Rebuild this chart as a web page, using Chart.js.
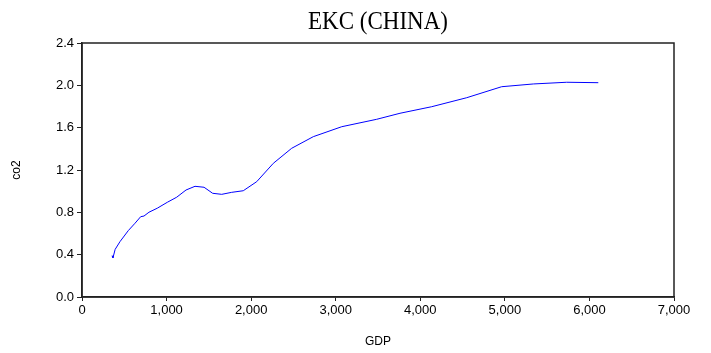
<!DOCTYPE html>
<html>
<head>
<meta charset="utf-8">
<script src="https://cdn.jsdelivr.net/npm/chart.js@4/dist/chart.umd.min.js"></script>
<style>
  html, body { margin: 0; padding: 0; background: #fff; }
  #wrap { position: relative; width: 711px; height: 353px; }
  #title { position: absolute; left: 0; top: 6px; width: 756px; text-align: center;
           font-family: "Liberation Serif", "Times New Roman", serif; font-size: 23px; line-height: 30px; color: #000;
           transform: scaleY(1.12); transform-origin: 50% 50%; }
  canvas { display: block; }
</style>
</head>
<body>
<div id="wrap">
  <canvas id="c" width="711" height="353"></canvas>
  <div id="title">EKC (CHINA)</div>
</div>
<script>
const chartTitle = "EKC (CHINA)";
const xAxisTitle = "GDP";
const yAxisTitle = "co2";
const gdp = [355, 366, 392, 449, 547, 627, 694, 733, 792, 890, 1009, 1120, 1230, 1336, 1443, 1545, 1652, 1770, 1907, 2066, 2262, 2479, 2735, 3071, 3484, 3760, 4135, 4549, 4962, 5337, 5731, 6105];
const co2 = [0.39, 0.37, 0.45, 0.523, 0.627, 0.697, 0.759, 0.765, 0.801, 0.839, 0.895, 0.943, 1.011, 1.046, 1.037, 0.98, 0.97, 0.989, 1.004, 1.09, 1.263, 1.405, 1.515, 1.609, 1.679, 1.736, 1.798, 1.883, 1.987, 2.013, 2.029, 2.025];
const xTicks = [0, 1000, 2000, 3000, 4000, 5000, 6000, 7000];
const yTicks = [0.0, 0.4, 0.8, 1.2, 1.6, 2.0, 2.4];

const points = gdp.map((g, i) => ({ x: g, y: co2[i] }));
const tickFont = { family: "'Liberation Sans', Arial, sans-serif", size: 13 };

const framePlugin = {
  id: 'frame',
  afterDraw(chart) {
    const a = chart.chartArea, ctx = chart.ctx;
    ctx.save();
    ctx.strokeStyle = '#222';
    ctx.lineWidth = 1.5;
    ctx.strokeRect(a.left, a.top, a.right - a.left, a.bottom - a.top);
    ctx.restore();
  }
};

new Chart(document.getElementById('c'), {
  type: 'scatter',
  data: {
    datasets: [{
      label: yAxisTitle,
      data: points,
      showLine: true,
      borderColor: '#0000ff',
      borderWidth: 1,
      pointRadius: 0,
      tension: 0,
      fill: false
    }]
  },
  options: {
    responsive: false,
    animation: false,
    layout: { padding: { top: 43, right: 37, left: 0, bottom: 0 } },
    plugins: { legend: { display: false }, tooltip: { enabled: false }, title: { display: false, text: chartTitle } },
    scales: {
      x: {
        type: 'linear', min: 0, max: 7000,
        afterBuildTicks: s => { s.ticks = xTicks.map(v => ({ value: v })); },
        ticks: { color: '#000', font: tickFont, padding: 2, maxRotation: 0, autoSkip: false,
                 callback: v => v.toLocaleString('en-US') },
        grid: { drawOnChartArea: false, drawTicks: true, tickLength: 4, color: '#222', lineWidth: 1 },
        border: { display: true, color: '#222', width: 1.5 },
        title: { display: true, text: xAxisTitle, color: '#000', font: { family: "'Liberation Sans', Arial, sans-serif", size: 12 }, padding: { top: 0, bottom: 4 } },
        afterFit: s => { s.height = 56; }
      },
      y: {
        type: 'linear', min: 0, max: 2.4,
        afterBuildTicks: s => { s.ticks = yTicks.map(v => ({ value: v })); },
        ticks: { color: '#000', font: tickFont, padding: 3, callback: v => Number(v).toFixed(1) },
        grid: { drawOnChartArea: false, drawTicks: true, tickLength: 5, color: '#222', lineWidth: 1 },
        border: { display: true, color: '#222', width: 1.5 },
        title: { display: true, text: yAxisTitle, color: '#000', font: { family: "'Liberation Sans', Arial, sans-serif", size: 12 }, padding: { top: 9, bottom: 0 } },
        afterFit: s => { s.width = 82; }
      }
    }
  },
  plugins: [framePlugin]
});
</script>
</body>
</html>
